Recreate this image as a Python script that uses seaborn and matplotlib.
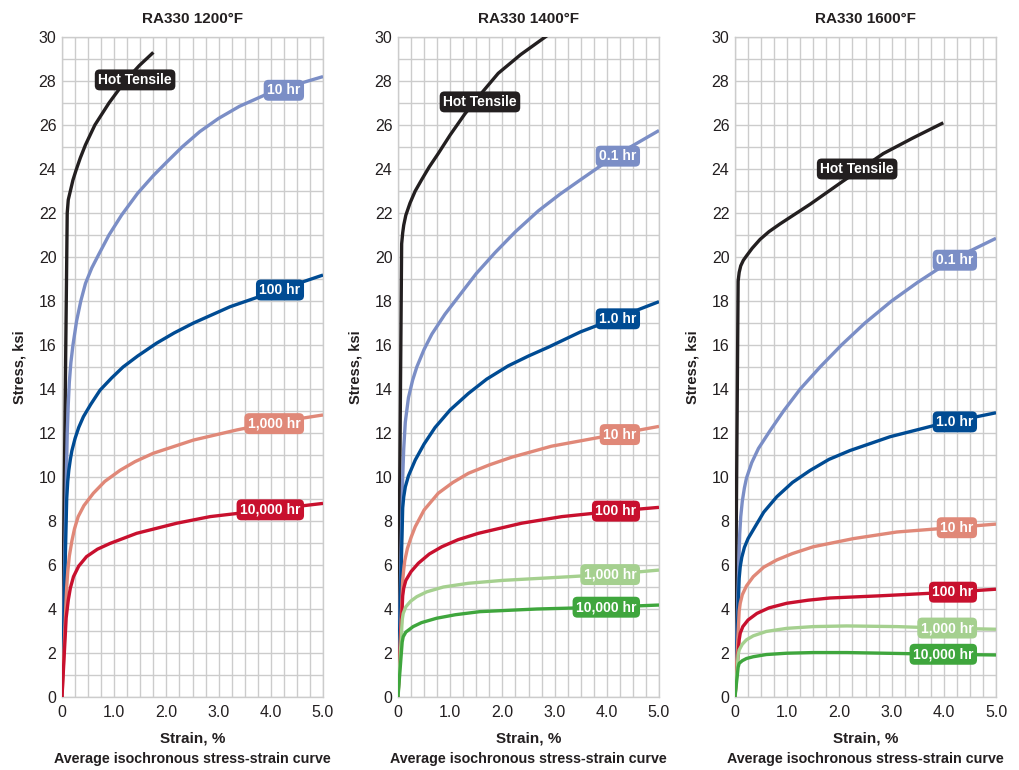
import numpy as np
import pandas as pd
import matplotlib
matplotlib.use("Agg")
import matplotlib.pyplot as plt
import seaborn as sns

# ---- data (strain %, stress ksi) ----
TEMPS = ["1200°F", "1400°F", "1600°F"]

# 1200 F
strain_1200_hot = [0, 0.10, 0.12, 0.16, 0.21, 0.27, 0.35, 0.45, 0.63, 0.90, 1.21, 1.48, 1.75]
stress_1200_hot = [0, 22.0, 22.6, 23.0, 23.5, 23.95, 24.5, 25.1, 26.0, 27.0, 28.0, 28.7, 29.3]
strain_1200_10 = [0, 0.10, 0.12, 0.14, 0.17, 0.21, 0.28, 0.36, 0.45, 0.57, 0.70, 0.90,
                  1.14, 1.45, 1.75, 2.0, 2.3, 2.64, 3.0, 3.4, 3.92, 4.5, 5.0]
stress_1200_10 = [0, 12.0, 13.3, 14.3, 15.2, 16.0, 17.1, 18.0, 18.8, 19.5, 20.1, 21.0,
                  21.9, 22.9, 23.7, 24.3, 25.0, 25.7, 26.3, 26.85, 27.4, 27.85, 28.2]
strain_1200_100 = [0, 0.09, 0.11, 0.13, 0.16, 0.19, 0.25, 0.32, 0.41, 0.55, 0.73, 0.95,
                   1.17, 1.45, 1.81, 2.15, 2.52, 3.22, 4.05, 5.0]
stress_1200_100 = [0, 9.0, 9.8, 10.3, 10.8, 11.2, 11.75, 12.25, 12.74, 13.3, 13.95, 14.5,
                   15.0, 15.5, 16.08, 16.55, 17.0, 17.74, 18.42, 19.18]
strain_1200_1000 = [0, 0.09, 0.11, 0.14, 0.19, 0.24, 0.31, 0.42, 0.60, 0.82, 1.11, 1.4,
                    1.75, 2.52, 3.35, 4.0, 5.0]
stress_1200_1000 = [0, 5.0, 5.7, 6.4, 7.1, 7.65, 8.2, 8.7, 9.26, 9.8, 10.3, 10.7,
                    11.08, 11.68, 12.14, 12.45, 12.82]
strain_1200_10000 = [0, 0.08, 0.10, 0.12, 0.16, 0.22, 0.32, 0.47, 0.68, 0.92, 1.43, 2.2,
                     2.84, 3.92, 5.0]
stress_1200_10000 = [0, 3.6, 4.0, 4.4, 4.95, 5.47, 5.95, 6.38, 6.72, 6.98, 7.44, 7.9,
                     8.2, 8.5, 8.8]

# 1400 F
strain_1400_hot = [0, 0.07, 0.09, 0.11, 0.15, 0.23, 0.33, 0.45, 0.60, 0.77, 1.0, 1.28,
                   1.6, 1.92, 2.35, 2.82, 3.0]
stress_1400_hot = [0, 20.6, 21.1, 21.45, 21.9, 22.45, 23.0, 23.5, 24.1, 24.7, 25.55, 26.5,
                   27.45, 28.35, 29.2, 30.0, 30.3]
strain_1400_01 = [0, 0.09, 0.11, 0.14, 0.20, 0.28, 0.36, 0.5, 0.65, 0.9, 1.16, 1.5, 1.86,
                  2.25, 2.69, 3.1, 3.52, 4.16, 5.0]
stress_1400_01 = [0, 10.0, 11.3, 12.5, 13.6, 14.4, 15.0, 15.8, 16.5, 17.4, 18.2, 19.25,
                  20.2, 21.15, 22.1, 22.85, 23.55, 24.6, 25.75]
strain_1400_1 = [0, 0.09, 0.11, 0.14, 0.2, 0.33, 0.5, 0.71, 1.0, 1.35, 1.7, 2.11, 2.5,
                 2.88, 3.5, 4.16, 5.0]
stress_1400_1 = [0, 8.6, 9.1, 9.55, 10.05, 10.77, 11.5, 12.25, 13.05, 13.8, 14.45, 15.05,
                 15.5, 15.9, 16.6, 17.2, 17.97]
strain_1400_10 = [0, 0.09, 0.11, 0.13, 0.18, 0.25, 0.33, 0.5, 0.77, 1.05, 1.35, 1.75,
                  2.18, 2.94, 4.2, 5.0]
stress_1400_10 = [0, 5.3, 5.8, 6.2, 6.75, 7.25, 7.74, 8.5, 9.26, 9.75, 10.17, 10.55,
                  10.9, 11.4, 11.95, 12.3]
strain_1400_100 = [0, 0.09, 0.11, 0.15, 0.25, 0.39, 0.6, 0.84, 1.15, 1.54, 2.37, 3.14,
                   4.16, 5.0]
stress_1400_100 = [0, 4.6, 4.95, 5.3, 5.7, 6.08, 6.5, 6.83, 7.15, 7.44, 7.9, 8.2,
                   8.45, 8.62]
strain_1400_1000 = [0, 0.08, 0.10, 0.15, 0.24, 0.36, 0.55, 0.87, 1.35, 2.0, 3.3, 4.2, 5.0]
stress_1400_1000 = [0, 3.5, 3.8, 4.1, 4.35, 4.56, 4.78, 5.0, 5.17, 5.3, 5.47, 5.6, 5.77]
strain_1400_10000 = [0, 0.08, 0.10, 0.15, 0.29, 0.45, 0.74, 1.1, 1.57, 2.66, 3.93, 5.0]
stress_1400_10000 = [0, 2.5, 2.74, 2.95, 3.2, 3.38, 3.58, 3.74, 3.88, 4.0, 4.08, 4.18]

# 1600 F
strain_1600_hot = [0, 0.06, 0.08, 0.11, 0.16, 0.22, 0.33, 0.48, 0.65, 0.86, 1.15, 1.44,
                   2.07, 2.84, 3.4, 3.99]
stress_1600_hot = [0, 18.9, 19.3, 19.6, 19.85, 20.05, 20.4, 20.8, 21.15, 21.5, 21.95, 22.4,
                   23.45, 24.7, 25.4, 26.1]
strain_1600_01 = [0, 0.09, 0.11, 0.14, 0.18, 0.22, 0.32, 0.45, 0.67, 0.93, 1.25, 1.63,
                  2.04, 2.49, 3.0, 3.5, 4.18, 5.0]
stress_1600_01 = [0, 7.4, 8.2, 8.9, 9.5, 9.95, 10.65, 11.3, 12.1, 13.0, 14.0, 15.0,
                  16.0, 17.0, 18.0, 18.85, 19.9, 20.85]
strain_1600_1 = [0, 0.08, 0.10, 0.13, 0.18, 0.25, 0.35, 0.55, 0.80, 1.1, 1.44, 1.8, 2.2,
                 2.97, 3.83, 5.0]
stress_1600_1 = [0, 5.4, 5.92, 6.35, 6.8, 7.2, 7.6, 8.4, 9.1, 9.75, 10.3, 10.8, 11.2,
                 11.83, 12.35, 12.92]
strain_1600_10 = [0, 0.08, 0.10, 0.14, 0.22, 0.35, 0.55, 0.80, 1.1, 1.5, 2.27, 3.1, 4.18, 5.0]
stress_1600_10 = [0, 3.9, 4.26, 4.65, 5.05, 5.47, 5.9, 6.23, 6.52, 6.83, 7.2, 7.5, 7.7, 7.86]
strain_1600_100 = [0, 0.08, 0.10, 0.15, 0.25, 0.42, 0.65, 0.99, 1.4, 1.82, 2.78, 4.12, 5.0]
stress_1600_100 = [0, 2.6, 2.9, 3.2, 3.5, 3.8, 4.05, 4.26, 4.4, 4.5, 4.6, 4.76, 4.9]
strain_1600_1000 = [0, 0.06, 0.08, 0.14, 0.22, 0.35, 0.6, 0.99, 1.5, 2.14, 3.1, 4.0, 5.0]
stress_1600_1000 = [0, 1.9, 2.14, 2.4, 2.6, 2.78, 2.98, 3.12, 3.2, 3.23, 3.2, 3.13, 3.08]
strain_1600_10000 = [0, 0.06, 0.08, 0.14, 0.22, 0.35, 0.6, 0.99, 1.5, 2.14, 3.1, 4.0, 5.0]
stress_1600_10000 = [0, 1.35, 1.53, 1.65, 1.75, 1.83, 1.93, 1.99, 2.02, 2.02, 1.98, 1.94, 1.91]

COLORS = {
    "black": "#231f20",
    "light_blue": "#7b8ec6",
    "dark_blue": "#004b93",
    "salmon": "#e08878",
    "red": "#c8102e",
    "light_green": "#a5d08f",
    "green": "#3fa63d",
}

# (label, strain, stress, colour key)
PANELS = [
    [
        ("Hot Tensile", strain_1200_hot, stress_1200_hot, "black"),
        ("10 hr", strain_1200_10, stress_1200_10, "light_blue"),
        ("100 hr", strain_1200_100, stress_1200_100, "dark_blue"),
        ("1,000 hr", strain_1200_1000, stress_1200_1000, "salmon"),
        ("10,000 hr", strain_1200_10000, stress_1200_10000, "red"),
    ],
    [
        ("Hot Tensile", strain_1400_hot, stress_1400_hot, "black"),
        ("0.1 hr", strain_1400_01, stress_1400_01, "light_blue"),
        ("1.0 hr", strain_1400_1, stress_1400_1, "dark_blue"),
        ("10 hr", strain_1400_10, stress_1400_10, "salmon"),
        ("100 hr", strain_1400_100, stress_1400_100, "red"),
        ("1,000 hr", strain_1400_1000, stress_1400_1000, "light_green"),
        ("10,000 hr", strain_1400_10000, stress_1400_10000, "green"),
    ],
    [
        ("Hot Tensile", strain_1600_hot, stress_1600_hot, "black"),
        ("0.1 hr", strain_1600_01, stress_1600_01, "light_blue"),
        ("1.0 hr", strain_1600_1, stress_1600_1, "dark_blue"),
        ("10 hr", strain_1600_10, stress_1600_10, "salmon"),
        ("100 hr", strain_1600_100, stress_1600_100, "red"),
        ("1,000 hr", strain_1600_1000, stress_1600_1000, "light_green"),
        ("10,000 hr", strain_1600_10000, stress_1600_10000, "green"),
    ],
]
# tag positions for the hot tensile curves (strain, stress)
HOT_TAG = [(1.40, 28.05), (1.57, 27.05), (2.34, 24.0)]

sns.set_theme(style="white")
plt.rcParams["font.family"] = ["Liberation Sans", "DejaVu Sans"]
INK = "#231f20"
GRID = "#cccccc"

fig = plt.figure(figsize=(10.19, 7.70), dpi=100)
lefts = [62, 398, 735]

for i, (temp, curves) in enumerate(zip(TEMPS, PANELS)):
    ax = fig.add_axes([lefts[i] / 1019, 73 / 770, 261 / 1019, 660 / 770])
    df = pd.concat(
        [pd.DataFrame({"strain": sx, "stress": sy, "curve": label})
         for label, sx, sy, _ in curves],
        ignore_index=True,
    )
    palette = {label: COLORS[ckey] for label, _, _, ckey in curves}
    sns.lineplot(data=df, x="strain", y="stress", hue="curve", palette=palette,
                 estimator=None, sort=False, legend=False, linewidth=2.4, ax=ax,
                 zorder=3)
    for line in ax.lines:
        line.set_solid_joinstyle("round")
        line.set_solid_capstyle("butt")

    box = dict(boxstyle="round,pad=0.25,rounding_size=0.35", ec="none")
    for label, sx, sy, ckey in curves:
        if label == "Hot Tensile":
            x, y = HOT_TAG[i]
            ha = "center"
        else:
            y = np.interp(3.95 if len(label) > 6 else 4.15, sx, sy)
            x, ha = 4.57, "right"
        ax.text(x, y, label, ha=ha, va="center", color="white", fontsize=10,
                fontweight="bold", zorder=5, bbox={**box, "fc": COLORS[ckey]})

    ax.set_xlim(0, 5)
    ax.set_ylim(0, 30)
    ax.set_xticks(np.arange(0, 5.01, 1.0))
    ax.set_xticklabels(["0", "1.0", "2.0", "3.0", "4.0", "5.0"])
    ax.set_yticks(np.arange(0, 31, 2))
    ax.set_xticks(np.arange(0, 5.01, 0.25), minor=True)
    ax.set_yticks(np.arange(0, 31, 1), minor=True)
    ax.grid(which="both", color=GRID, linewidth=1.0, zorder=0)
    ax.set_axisbelow(True)
    for sp in ax.spines.values():
        sp.set_color(GRID)
        sp.set_linewidth(1.0)
    ax.tick_params(which="both", length=0, labelsize=11.5, colors=INK)
    ax.tick_params(axis="y", pad=4)
    ax.tick_params(axis="x", pad=6)

    ax.set_title(f"RA330 {temp}", fontsize=11, fontweight="bold", pad=10, color=INK)
    ax.set_ylabel("Stress, ksi", fontsize=10.5, fontweight="bold", color=INK)
    ax.yaxis.set_label_coords(-0.135, 0.5)
    ax.set_xlabel("Strain, %", fontsize=11, fontweight="bold", color=INK)
    ax.xaxis.set_label_coords(0.5, -0.052)
    ax.xaxis.label.set_va("top")
    ax.text(0.5, -0.083, "Average isochronous stress-strain curve", transform=ax.transAxes,
            ha="center", va="top", fontsize=10.3, fontweight="bold", color=INK)

fig.savefig("out.png", dpi=100)
